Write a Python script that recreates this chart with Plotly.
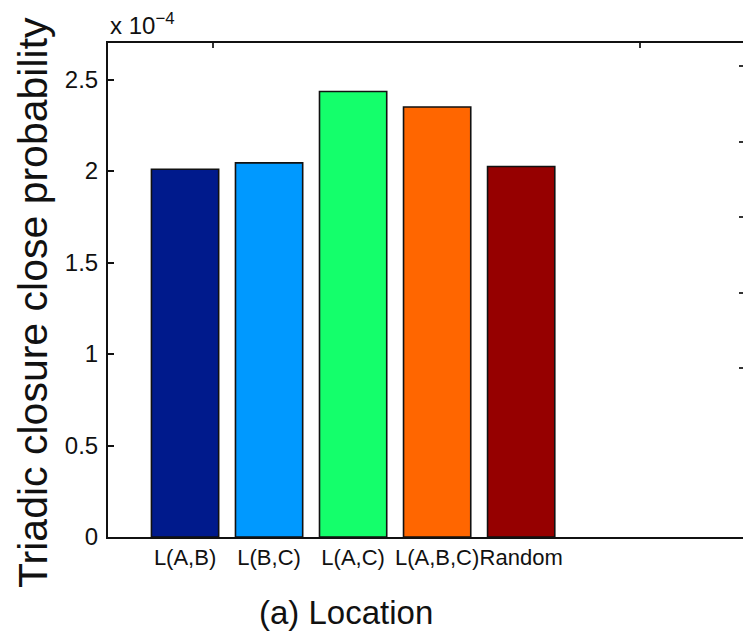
import plotly.graph_objects as go

categories = ["L(A,B)", "L(B,C)", "L(A,C)", "L(A,B,C)", "Random"]
values_e4 = [2.01, 2.045, 2.435, 2.35, 2.025]   # in units of 1e-4
bar_colors = ["#001A8C", "#0099FF", "#14FF6B", "#FF6600", "#960000"]
y_tick_vals = [0, 0.5, 1, 1.5, 2, 2.5]
y_tick_text = ["0", "0.5", "1", "1.5", "2", "2.5"]

FONT = "Liberation Sans, Arial, Helvetica, sans-serif"

xpos = list(range(1, len(categories) + 1))

fig = go.Figure()
fig.add_trace(go.Bar(
    x=xpos, y=values_e4, width=0.8,
    marker=dict(color=bar_colors, line=dict(color="#111111", width=1.6)),
    showlegend=False, hoverinfo="x+y",
))
# invisible trace to activate overlay axes (right / top ticks from underlying axes)
fig.add_trace(go.Scatter(x=[0, 1], y=[0, 1], xaxis="x2", yaxis="y2",
                         mode="markers", marker=dict(opacity=0), showlegend=False,
                         hoverinfo="skip"))

fig.update_layout(
    width=743, height=632,
    margin=dict(l=108, r=0, t=43, b=95),
    paper_bgcolor="white", plot_bgcolor="white",
    font=dict(family=FONT, color="#111111"),
    bargap=0.2,
    xaxis=dict(
        range=[0.083, 7.64], tickmode="array", tickvals=xpos, ticktext=categories,
        ticks="", showgrid=False, zeroline=False, tickangle=0, automargin=False,
        showline=True, linecolor="#111111", linewidth=2, mirror=True,
        tickfont=dict(size=22, family=FONT, color="#111111"),
    ),
    yaxis=dict(
        range=[0, 2.7], tickmode="array", tickvals=y_tick_vals, ticktext=y_tick_text,
        ticks="inside", ticklen=6, tickwidth=1.5, tickcolor="#111111",
        showgrid=False, zeroline=False, automargin=False,
        showline=True, linecolor="#111111", linewidth=2,
        tickfont=dict(size=24, family=FONT, color="#111111"),
        ticklabelstandoff=3,
    ),
    xaxis2=dict(
        overlaying="x", side="top", range=[0, 1], tickmode="array",
        tickvals=[0.165, 0.837], showticklabels=False, ticks="inside", ticklen=5,
        tickwidth=1.5, tickcolor="#333333", showgrid=False, zeroline=False,
        showline=False, automargin=False,
    ),
    yaxis2=dict(
        overlaying="y", side="right", range=[0, 1], tickmode="array",
        tickvals=[0.342, 0.494, 0.648, 0.800, 0.953], showticklabels=False,
        ticks="inside", ticklen=4, tickwidth=1.5, tickcolor="#333333",
        showgrid=False, zeroline=False, showline=False, automargin=False,
    ),
    annotations=[
        dict(text="Triadic closure close probability", xref="paper", yref="paper",
             x=-0.118, y=0.474, xanchor="center", yanchor="middle", textangle=-90,
             showarrow=False, font=dict(size=41, family=FONT, color="#111111")),
        dict(text="(a) Location", xref="paper", yref="paper",
             x=0.375, y=-0.152, xanchor="center", yanchor="middle",
             showarrow=False, font=dict(size=33, family=FONT, color="#111111")),
        dict(text="x 10<sup>\u22124</sup>", xref="paper", yref="paper",
             x=0.0, y=1.0, xanchor="left", yanchor="bottom", yshift=2,
             showarrow=False, font=dict(size=24, family=FONT, color="#111111")),
    ],
)

fig.write_html("out.html", config={"displayModeBar": False},
               post_script="document.body.style.margin='0';document.body.style.padding='0';")
